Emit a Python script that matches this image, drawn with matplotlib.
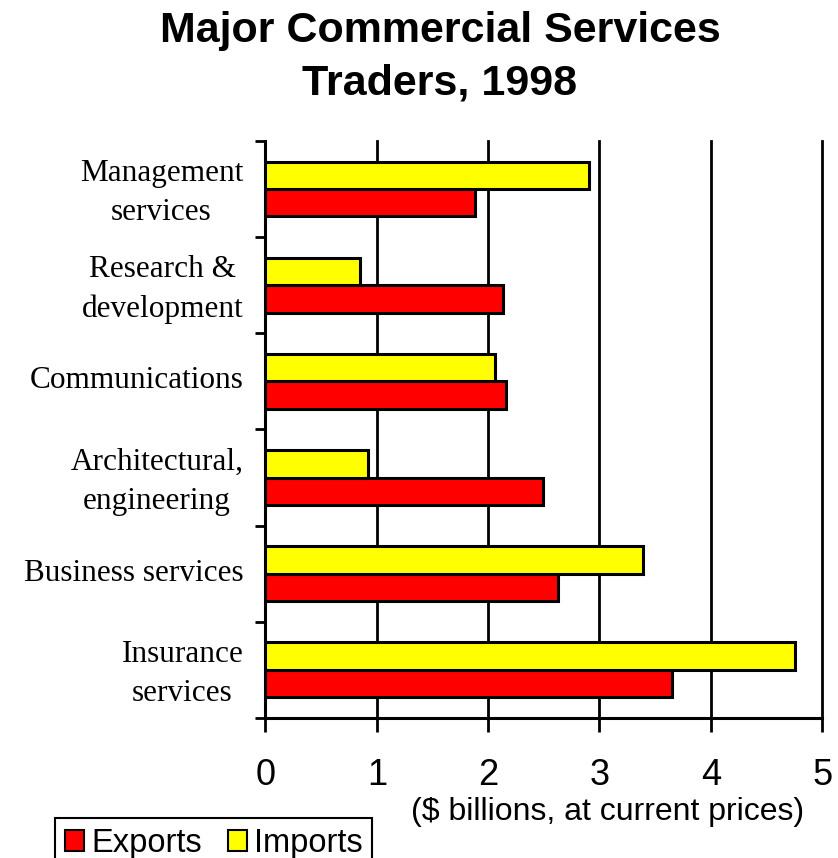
import matplotlib.pyplot as plt
from matplotlib.transforms import ScaledTranslation

# Data ($ billions, 1998)
categories = ['Insurance\nservices', 'Business services', 'Architectural,\nengineering',
              'Communications', 'Research &\ndevelopment', 'Management\nservices']
exports = [3.65, 2.63, 2.49, 2.16, 2.13, 1.88]
imports = [4.76, 3.39, 0.92, 2.06, 0.85, 2.91]
xticks = [0, 1, 2, 3, 4, 5]

sans = ['Liberation Sans', 'DejaVu Sans']
serif = ['Liberation Serif', 'DejaVu Serif']

fig = plt.figure(figsize=(8.38, 8.58), dpi=100)
ax = fig.add_axes([0.3168, 0.1632, 0.6643, 0.6725])

bar_h = 0.285
y = range(len(categories))
exp_bars = ax.barh([i - bar_h / 2 for i in y], exports, height=bar_h,
                   color='#ff0000', edgecolor='black', linewidth=2.2, zorder=3)
imp_bars = ax.barh([i + bar_h / 2 for i in y], imports, height=bar_h,
                   color='#ffff00', edgecolor='black', linewidth=2.2, zorder=3)

ax.set_xlim(0, 5)
ax.set_ylim(-0.5, len(categories) - 0.5)

# vertical grid at each unit
ax.set_xticks(xticks)
ax.set_xticklabels([str(t) for t in xticks], family=sans, fontsize=26)
ax.grid(axis='x', color='black', linewidth=2.0, zorder=1)
for gl in ax.get_xgridlines():
    gl.set_clip_on(False)
ax.tick_params(axis='x', direction='out', length=10, width=2, pad=19)

# boundaries get the tick marks, centres get the labels
ax.set_yticks([i - 0.5 for i in range(len(categories) + 1)])
ax.set_yticklabels([])
ax.set_yticks(list(y), minor=True)
ax.set_yticklabels(categories, minor=True, family=serif, fontsize=22.5,
                   multialignment='center', linespacing=1.45)
ax.tick_params(axis='y', which='major', direction='out', length=7.5, width=2)
ax.tick_params(axis='y', which='minor', length=0, pad=16)
# nudge the category labels up a little
for lbl in ax.get_yticklabels(minor=True):
    lbl.set_transform(lbl.get_transform() + ScaledTranslation(0, 3 / 72, fig.dpi_scale_trans))

for side in ['top', 'right']:
    ax.spines[side].set_visible(False)
for side in ['left', 'bottom']:
    ax.spines[side].set_linewidth(2.2)

fig.text(0.525, 1 - 11 / 858, 'Major Commercial Services\nTraders, 1998', ha='center',
         va='top', family=sans, fontsize=31, fontweight='bold', linespacing=1.4)

fig.text(608 / 838, 1 - 812 / 858, '($ billions, at current prices)', ha='center',
         va='center', family=sans, fontsize=23)

leg = fig.legend([exp_bars, imp_bars], ['Exports', 'Imports'], loc='upper left',
                 bbox_to_anchor=(55 / 838, 1 - 818 / 858), ncol=2, fancybox=False,
                 edgecolor='black', framealpha=1, borderpad=0.3, handlelength=0.6,
                 handleheight=0.6, handletextpad=0.2, columnspacing=0.8,
                 borderaxespad=0, prop={'family': sans, 'size': 23.5})
leg.get_frame().set_linewidth(1.5)
for h in leg.legend_handles:
    h.set_linewidth(1.5)

fig.savefig('out.png', dpi=100)
